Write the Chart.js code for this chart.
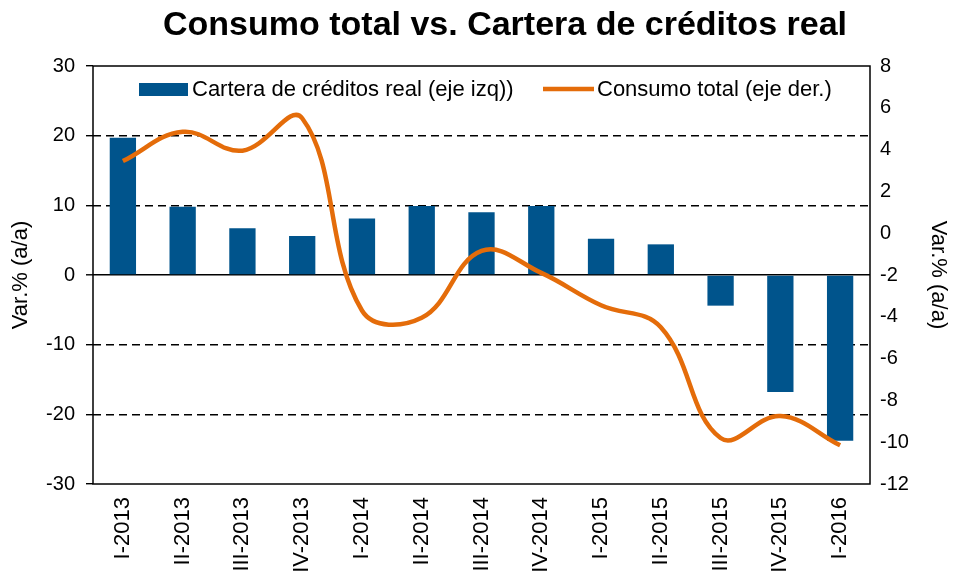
<!DOCTYPE html>
<html>
<head>
<meta charset="utf-8">
<style>
  html, body { margin: 0; padding: 0; background: #fff; overflow: hidden; }
  #wrap { width: 955px; height: 573px; position: relative; }
</style>
<script src="https://cdn.jsdelivr.net/npm/chart.js@4/dist/chart.umd.min.js"></script>
</head>
<body>
<div id="wrap"><canvas id="chart" width="955" height="573"></canvas></div>
<script>
// data
const labels = ['I-2013','II-2013','III-2013','IV-2013','I-2014','II-2014','III-2014','IV-2014','I-2015','II-2015','III-2015','IV-2015','I-2016'];
const cartera = [19.7, 9.8, 6.7, 5.6, 8.1, 9.9, 9.0, 9.9, 5.2, 4.4, -4.4, -16.8, -23.8];
const consumo = [3.45, 4.85, 3.95, 5.5, -3.7, -4.05, -0.85, -1.9, -3.45, -4.5, -9.8, -8.75, -10.15];
const leftTicks = [-30, -20, -10, 0, 10, 20, 30];
const rightTicks = [-12, -10, -8, -6, -4, -2, 0, 2, 4, 6, 8];

const TITLE = 'Consumo total vs. Cartera de créditos real';
const AXIS_TITLE = 'Var.% (a/a)';
const BLUE = '#00548C';
const ORANGE = '#E46C0A';
const FONT = "'Liberation Sans', Arial, sans-serif";

// title, legend and plot frame drawn on the canvas
const decor = {
  id: 'decor',
  afterDatasetsDraw(chart){
    const {ctx, chartArea: a} = chart;
    ctx.save();
    ctx.strokeStyle = '#000';
    ctx.lineWidth = 1.5;
    ctx.strokeRect(a.left, a.top, a.right - a.left, a.bottom - a.top);
    ctx.restore();
  },
  afterDraw(chart){
    const {ctx} = chart;
    ctx.save();
    ctx.fillStyle = '#000';
    ctx.font = 'bold 34px ' + FONT;
    ctx.textAlign = 'center';
    ctx.textBaseline = 'alphabetic';
    ctx.fillText(TITLE, 505, 35);

    // legend inside plot
    const ds = chart.data.datasets;
    ctx.font = '22px ' + FONT;
    ctx.textAlign = 'left';
    ctx.textBaseline = 'middle';
    ctx.fillStyle = BLUE;
    ctx.fillRect(139, 83, 49, 13);
    ctx.fillStyle = '#000';
    ctx.fillText(ds[1].label, 192, 90);
    ctx.strokeStyle = ORANGE;
    ctx.lineWidth = 4.5;
    ctx.beginPath();
    ctx.moveTo(543, 89);
    ctx.lineTo(594, 89);
    ctx.stroke();
    ctx.fillText(ds[0].label, 597, 90);
    ctx.restore();
  }
};

new Chart(document.getElementById('chart'), {
  data: {
    labels: labels,
    datasets: [
      {type:'line', label:'Consumo total (eje der.)', data:consumo, yAxisID:'y1', borderColor:ORANGE, borderWidth:4.5, pointRadius:0, tension:0.4, order:0},
      {type:'bar', label:'Cartera de créditos real (eje izq))', data:cartera, yAxisID:'y', backgroundColor:BLUE, barPercentage:0.44, categoryPercentage:1, order:1}
    ]
  },
  options: {
    responsive:false, animation:false,
    layout:{padding:{top:66, left:0, right:0, bottom:0}},
    plugins:{legend:{display:false}, tooltip:{enabled:false}, title:{display:false}},
    scales:{
      x:{
        grid:{display:false, drawTicks:false},
        border:{display:false},
        ticks:{color:'#000', font:{family:FONT, size:22}, minRotation:90, maxRotation:90, autoSkip:false, padding:13},
        afterFit(s){ s.height = 89; }
      },
      y:{
        position:'left', min:-30, max:30,
        afterBuildTicks(s){ s.ticks = leftTicks.map(v=>({value:v})); },
        grid:{
          color(c){ return (c.tick && (c.tick.value === 30 || c.tick.value === -30)) ? 'rgba(0,0,0,0)' : '#000'; },
          lineWidth(c){ return c.tick && c.tick.value === 0 ? 1.6 : 1.4; },
          tickColor:'#000', tickLength:7, tickWidth:1.4, tickBorderDash:[]
        },
        border:{display:false, dash(c){ return c.tick && c.tick.value === 0 ? [] : [8,5]; }},
        ticks:{color:'#000', font:{family:FONT, size:20}, padding:11},
        title:{display:true, text:AXIS_TITLE, color:'#000', font:{family:FONT, size:22}, padding:{top:8, bottom:0}},
        afterFit(s){ s.width = 93; }
      },
      y1:{
        position:'right', min:-12, max:8,
        afterBuildTicks(s){ s.ticks = rightTicks.map(v=>({value:v})); },
        grid:{drawOnChartArea:false, drawTicks:false},
        border:{display:false},
        ticks:{color:'#000', font:{family:FONT, size:20}, padding:10},
        title:{display:true, text:AXIS_TITLE, color:'#000', font:{family:FONT, size:22}, padding:{top:4, bottom:0}},
        afterFit(s){ s.width = 85; }
      }
    }
  },
  plugins:[decor]
});
</script>
</body>
</html>
